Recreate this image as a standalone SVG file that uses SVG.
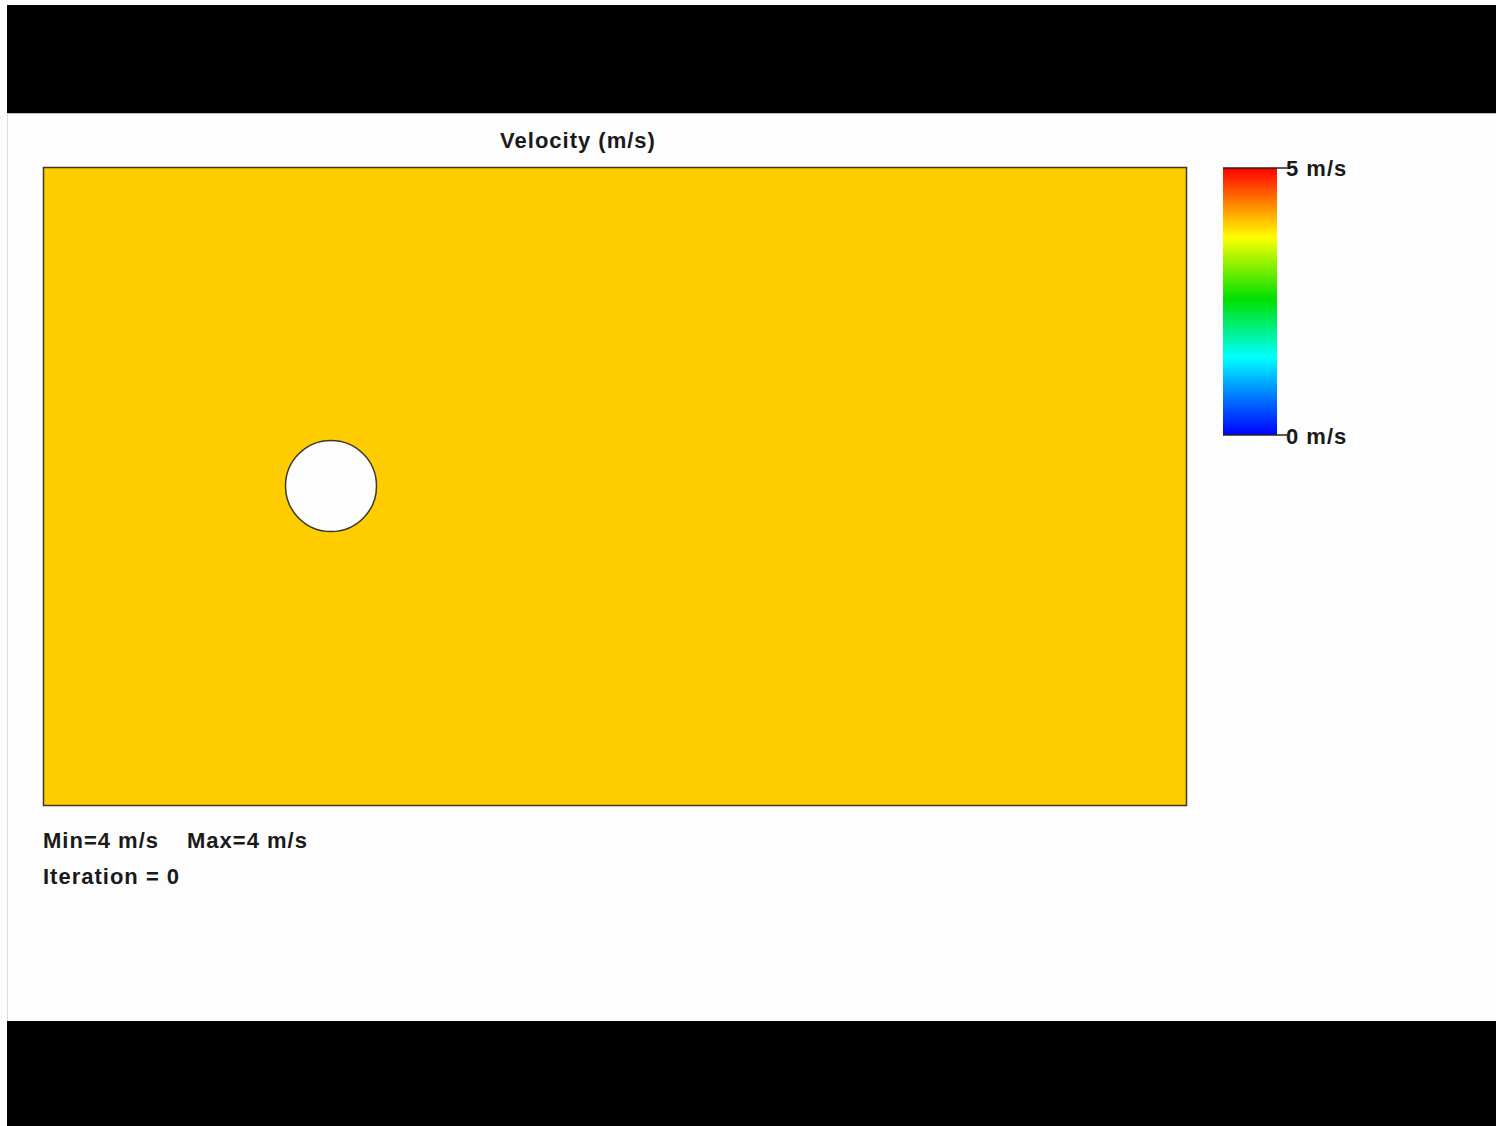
<svg xmlns="http://www.w3.org/2000/svg" width="1496" height="1126" viewBox="0 0 1496 1126">
  <style>
    .lbl { font-family: "Liberation Sans", Arial, sans-serif; font-weight: bold; font-size: 22px; letter-spacing: 1px; fill: #1a1a1a; }
    .bar { fill: #000000; }
  </style>
  <defs>
    <linearGradient id="cmap" x1="0" y1="0" x2="0" y2="1">
      <stop offset="0" stop-color="#ff0000"/>
      <stop offset="0.13" stop-color="#ff8000"/>
      <stop offset="0.26" stop-color="#ffff00"/>
      <stop offset="0.49" stop-color="#00e000"/>
      <stop offset="0.71" stop-color="#00ffff"/>
      <stop offset="0.85" stop-color="#0080ff"/>
      <stop offset="1" stop-color="#0000ff"/>
    </linearGradient>
  </defs>
  <rect x="0" y="0" width="1496" height="1126" fill="#fdfdfd"/>
  <rect class="bar" x="7" y="5" width="1489" height="108"/>
  <rect class="bar" x="7" y="1021" width="1489" height="105"/>
  <line x1="7" y1="113.5" x2="1496" y2="113.5" stroke="#bbbbbb" stroke-width="1"/>
  <line x1="7.5" y1="113" x2="7.5" y2="1021" stroke="#dddddd" stroke-width="1"/>

  <g id="title">
    <text class="lbl" x="578" y="148" text-anchor="middle">Velocity (m/s)</text>
  </g>

  <g id="domain">
    <rect x="43.5" y="167.5" width="1143" height="638" fill="#ffcc00" stroke="#3a3a2a" stroke-width="1.5"/>
  </g>

  <g id="cylinder">
    <circle cx="331" cy="486" r="45.5" fill="#fdfdfd" stroke="#3a3a2a" stroke-width="1.5"/>
  </g>

  <g id="colorbar">
    <rect x="1223" y="168" width="54" height="267" fill="url(#cmap)"/>
    <line x1="1223" y1="168" x2="1287" y2="168" stroke="#222" stroke-width="1.5"/>
    <line x1="1223" y1="435" x2="1287" y2="435" stroke="#222" stroke-width="1.5"/>
    <text class="lbl" x="1286" y="176">5 m/s</text>
    <text class="lbl" x="1286" y="444">0 m/s</text>
  </g>

  <g id="stats">
    <text class="lbl" x="43" y="848">Min=4 m/s</text>
    <text class="lbl" x="187" y="848">Max=4 m/s</text>
    <text class="lbl" x="43" y="884">Iteration = 0</text>
  </g>
</svg>
